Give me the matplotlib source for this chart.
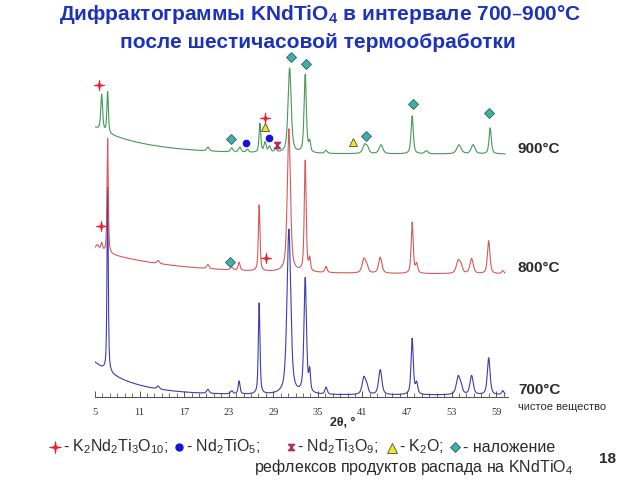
import numpy as np
import matplotlib
matplotlib.use('Agg')
import matplotlib.pyplot as plt
from matplotlib.path import Path

plt.rcParams['font.family'] = ['Liberation Sans', 'DejaVu Sans']
plt.rcParams['mathtext.default'] = 'regular'

# ---------------- data (2θ in degrees, intensity in arbitrary units) ----------------
tick_labels = [5, 11, 17, 23, 29, 35, 41, 47, 53, 59]

# background (level, low-angle amplitude, decay in deg)
bg_700 = (2.0, 32.8, 5.0)
bg_800 = (123.0, 24.4, 10.0)
bg_900 = (243.0, 26.4, 7.0)

pk700_pos = [6.7, 13.5, 20.2, 23.4, 24.4, 27.1, 31.1, 33.3, 33.9, 36.1, 41.2, 41.6, 43.4, 47.7, 48.3, 53.9, 54.3, 55.7, 58.0, 59.9]
pk700_h   = [184, 3, 4, 3, 13, 91, 165, 115, 20, 7, 17, 7, 25, 56, 11, 18, 6, 19, 37, 4]
pk700_w   = [0.10, 0.20, 0.20, 0.20, 0.15, 0.13, 0.30, 0.20, 0.13, 0.18, 0.28, 0.22, 0.26, 0.18, 0.18, 0.30, 0.22, 0.26, 0.22, 0.18]

pk800_pos = [5.3, 5.9, 6.7, 13.5, 20.2, 23.4, 24.4, 27.1, 31.1, 33.3, 33.9, 36.1, 41.2, 41.6, 43.4, 47.7, 48.3, 53.9, 54.3, 55.7, 58.0, 59.9]
pk800_h   = [5, 8, 115, 3, 4, 3, 8, 66, 143, 111, 12, 6, 14, 6, 16, 51, 9, 13, 6, 15, 33, 3]
pk800_w   = [0.25, 0.15, 0.10, 0.20, 0.20, 0.20, 0.15, 0.13, 0.25, 0.15, 0.13, 0.18, 0.28, 0.22, 0.26, 0.16, 0.18, 0.30, 0.22, 0.26, 0.20, 0.18]

pk900_pos = [5.9, 6.7, 20.2, 23.4, 24.5, 25.5, 27.2, 27.9, 28.5, 29.3, 31.2, 33.3, 33.9, 36.1, 41.3, 41.7, 43.5, 47.7, 49.6, 54.0, 55.9, 58.2]
pk900_h   = [36, 41, 4, 4, 5, 3, 29, 10, 6, 4, 85, 78, 10, 3, 9, 5, 9, 38, 3, 9, 9, 26]
pk900_w   = [0.15, 0.12, 0.20, 0.20, 0.20, 0.20, 0.14, 0.18, 0.18, 0.18, 0.25, 0.18, 0.14, 0.20, 0.30, 0.22, 0.30, 0.18, 0.25, 0.35, 0.30, 0.18]

# phase markers on the curves: (2θ, height)
star_x = [5.54, 27.89, 5.77, 28.03]
star_y = [312, 279, 171, 139]
diam_x = [23.31, 31.39, 33.41, 41.49, 47.82, 58.06, 23.18]
diam_y = [258, 340, 333, 261, 293, 284, 135]
dot_x = [25.33, 28.43]
dot_y = [254, 259]
tri_x = [27.89, 39.74]
tri_y = [270, 255]
hg_x = [29.51]
hg_y = [252]

series_labels = ['700°C', '800°C', '900°C']

# ---------------- styling ----------------
C_BLUE = '#3c3cb0'
C_RED = '#d04848'
C_GREEN = '#46985a'
TITLE_C = '#1c32bb'
TEXT_C = '#2a2a2a'
ETA = 0.6  # Lorentzian fraction of the peak profile

star_path = Path([(0, 1), (0.15, 0.15), (1, 0), (0.15, -0.15), (0, -1),
                  (-0.15, -0.15), (-1, 0), (-0.15, 0.15), (0, 1)], closed=True)
hg_verts = [(-1, 1), (1, 1), (-1, -1), (1, -1), (-1, 1)]


def pattern(x, bg, pos, h, w):
    c, a, tau = bg
    y = c + a * np.exp(-(x - 5) / tau)
    for p, hh, ww in zip(pos, h, w):
        d = (x - p) / ww
        y = y + hh * (ETA / (1 + d ** 2) + (1 - ETA) * np.exp(-np.log(2) * d ** 2))
    return y


fig = plt.figure(figsize=(6.4, 4.8), dpi=100)

# pixel-coordinate overlay
ov = fig.add_axes([0, 0, 1, 1])
ov.set_xlim(0, 640)
ov.set_ylim(480, 0)
ov.axis('off')

ax = fig.add_axes([95 / 640, 83 / 480, 413 / 640, 347 / 480])
ax.set_facecolor('none')
ax.set_xlim(5, 60.6)
ax.set_ylim(0, 347)

x = np.arange(5, 60.2, 0.02)
ax.plot(x, pattern(x, bg_700, pk700_pos, pk700_h, pk700_w), color=C_BLUE, lw=0.8, zorder=2)
ax.plot(x, pattern(x, bg_800, pk800_pos, pk800_h, pk800_w), color=C_RED, lw=0.8, alpha=0.9, zorder=3)
ax.plot(x, pattern(x, bg_900, pk900_pos, pk900_h, pk900_w), color=C_GREEN, lw=0.8, zorder=4)

mk = dict(linestyle='none', clip_on=False, zorder=6)
ax.plot(star_x, star_y, marker=star_path, ms=7.5, mfc='#e8202a', mec='#e8202a', mew=0.6, **mk)
ax.plot(diam_x, diam_y, marker='D', ms=5, mfc='#3fb0a8', mec='#2a6060', mew=0.6, **mk)
ax.plot(dot_x, dot_y, marker='o', ms=4.5, mfc='#1414d8', mec='#1414d8', **mk)
ax.plot(tri_x, tri_y, marker='^', ms=6, mfc='#f0e830', mec='#505020', mew=0.6, **mk)
ax.plot(hg_x, hg_y, marker=hg_verts, ms=4.5, mfc='#b03060', mec='#b03060', **mk)

for s in ['top', 'left', 'right']:
    ax.spines[s].set_visible(False)
ax.spines['bottom'].set_color('#555555')
ax.spines['bottom'].set_linewidth(0.8)
ax.set_yticks([])
ax.set_xticks(tick_labels)
ax.set_xticks(np.arange(5, 61, 1), minor=True)
ax.tick_params(axis='x', which='major', direction='in', length=4, width=0.7, color='#555555',
               labelsize=7.5, pad=8, labelcolor='#333333', labelfontfamily='Liberation Serif')
ax.tick_params(axis='x', which='minor', direction='in', length=3, width=0.6, color='#555555')

# titles
fig.text(320 / 640, 1 - 14 / 480, 'Дифрактограммы KNdTiO$_4$ в интервале 700–900°C',
         ha='center', va='center', fontsize=15, fontweight='bold', color=TITLE_C)
fig.text(318 / 640, 1 - 42 / 480, 'после шестичасовой термообработки',
         ha='center', va='center', fontsize=15, fontweight='bold', color=TITLE_C)

# right-side labels
ov.text(518, 390, series_labels[0], ha='left', va='center', fontsize=11, fontweight='bold', color=TEXT_C)
ov.text(518, 268, series_labels[1], ha='left', va='center', fontsize=11, fontweight='bold', color=TEXT_C)
ov.text(518, 149, series_labels[2], ha='left', va='center', fontsize=11, fontweight='bold', color=TEXT_C)
ov.text(518, 407, 'чистое вещество', ha='left', va='center', fontsize=8, color=TEXT_C)

ov.text(343, 423, '2θ, °', ha='center', va='center', fontsize=9, fontweight='bold', color=TEXT_C)
ov.text(607, 459, '18', ha='center', va='center', fontsize=11, fontweight='bold', color=TEXT_C)

# legend
ly = 447
lk = dict(linestyle='none', clip_on=False)
ov.plot([55], [ly], marker=star_path, ms=8.5, mfc='#e8202a', mec='#e8202a', mew=0.6, **lk)
ov.text(63, ly, '- K$_2$Nd$_2$Ti$_3$O$_{10}$;', ha='left', va='center', fontsize=11.5, color=TEXT_C)
ov.plot([179], [ly], marker='o', ms=5, mfc='#1414d8', mec='#1414d8', **lk)
ov.text(186, ly, '- Nd$_2$TiO$_5$;', ha='left', va='center', fontsize=11.5, color=TEXT_C)
ov.plot([291], [ly], marker=hg_verts, ms=4.5, mfc='#b03060', mec='#b03060', **lk)
ov.text(297, ly, '- Nd$_2$Ti$_3$O$_9$;', ha='left', va='center', fontsize=11.5, color=TEXT_C)
ov.plot([392], [ly + 1], marker='^', ms=7, mfc='#f0e830', mec='#505020', mew=0.6, **lk)
ov.text(399, ly, '- K$_2$O;', ha='left', va='center', fontsize=11.5, color=TEXT_C)
ov.plot([455], [ly], marker='D', ms=5.5, mfc='#3fb0a8', mec='#2a6060', mew=0.6, **lk)
ov.text(463, ly, '- наложение', ha='left', va='center', fontsize=11.5, color=TEXT_C)
ov.text(573, 467, 'рефлексов продуктов распада на KNdTiO$_4$', ha='right', va='center',
        fontsize=11.5, color=TEXT_C)

fig.savefig('out.png', dpi=100)
